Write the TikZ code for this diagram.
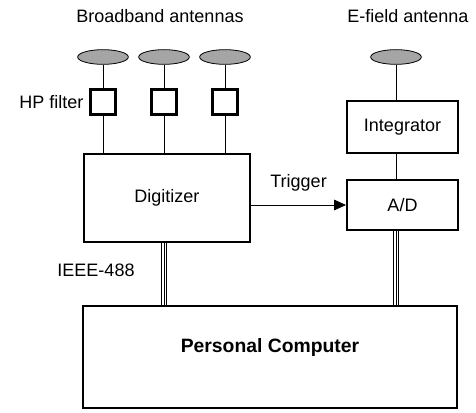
\documentclass[tikz,border=0pt]{standalone}
\usepackage{fontspec}
\setmainfont{Liberation Sans}
\usepackage{tikz}
\usetikzlibrary{positioning,arrows.meta,shapes.geometric,calc}
\definecolor{antgray}{RGB}{165,165,165}
\tikzset{
  block/.style={rectangle,draw=black,line width=1.7pt,align=center,inner sep=0pt},
  filterbox/.style={rectangle,draw=black,line width=1.9pt,minimum size=19pt,inner sep=0pt},
  antenna/.style={ellipse,draw=black,fill=antgray,line width=0.6pt,minimum width=38pt,minimum height=11pt,inner sep=0pt},
  lbl/.style={inner sep=0pt,font=\fontsize{13.5}{15}\selectfont},
  wire/.style={line width=0.6pt},
  trig/.style={-{Triangle[length=9pt,width=8pt]},line width=0.6pt},
  bus/.style={line width=0.9pt,double=white,double distance=3pt}
}
\begin{document}
\begin{tikzpicture}[x=0.75pt,y=-0.75pt,font=\fontsize{13.5}{15}\selectfont]
  \useasboundingbox (0,0) rectangle (476,412);
  % titles
  \node[lbl] (bbtitle) at (160,16) {Broadband antennas};
  \node[lbl] (eftitle) at (408,16) {E-field antenna};
  % broadband branch
  \node[antenna] (ant1) at (103,57) {};
  \node[antenna] (ant2) at (164,57) {};
  \node[antenna] (ant3) at (225,57) {};
  \node[filterbox] (hp1) at (103,102) {};
  \node[filterbox] (hp2) at (164,102) {};
  \node[filterbox] (hp3) at (225,102) {};
  \node[lbl,left=4pt of hp1] (hplabel) {HP filter};
  \node[block,minimum width=124.5pt,minimum height=66pt] (digitizer) at (167,198) {Digitizer};
  % E-field branch
  \node[antenna] (efant) at (396,57) {};
  \node[block,minimum width=83pt,minimum height=38.5pt] (integrator) at (402.5,127) {Integrator};
  \node[block,minimum width=83pt,minimum height=37.5pt] (ad) at (402.5,205) {A/D};
  % computer
  \node[block,minimum width=280.5pt,minimum height=76.5pt] (pc) at (270,357) {};
  \node[font=\bfseries\fontsize{14.5}{16}\selectfont,inner sep=0pt] (pclabel) at ($(pc.center)+(0,-10)$) {Personal Computer};
  % connections
  \foreach \i in {1,2,3}{
    \draw[wire] (ant\i) -- (hp\i);
    \draw[wire] (hp\i) -- (hp\i |- digitizer.north);
  }
  \draw[wire] (efant) -- (efant |- integrator.north);
  \draw[wire] (efant |- integrator.south) -- (efant |- ad.north);
  \draw[trig] (digitizer.east |- ad.west) -- node[lbl,above=10pt] (trigger) {Trigger} (ad.west);
  \draw[bus] (ant2 |- digitizer.south) -- (ant2 |- pc.north);
  \draw[wire,line width=0.4pt] (ant2 |- digitizer.south) -- (ant2 |- pc.north);
  \draw[bus] (efant |- ad.south) -- (efant |- pc.north);
  \draw[wire,line width=0.4pt] (efant |- ad.south) -- (efant |- pc.north);
  \node[lbl] (ieee) at (96,270) {IEEE-488};
\end{tikzpicture}
\end{document}
